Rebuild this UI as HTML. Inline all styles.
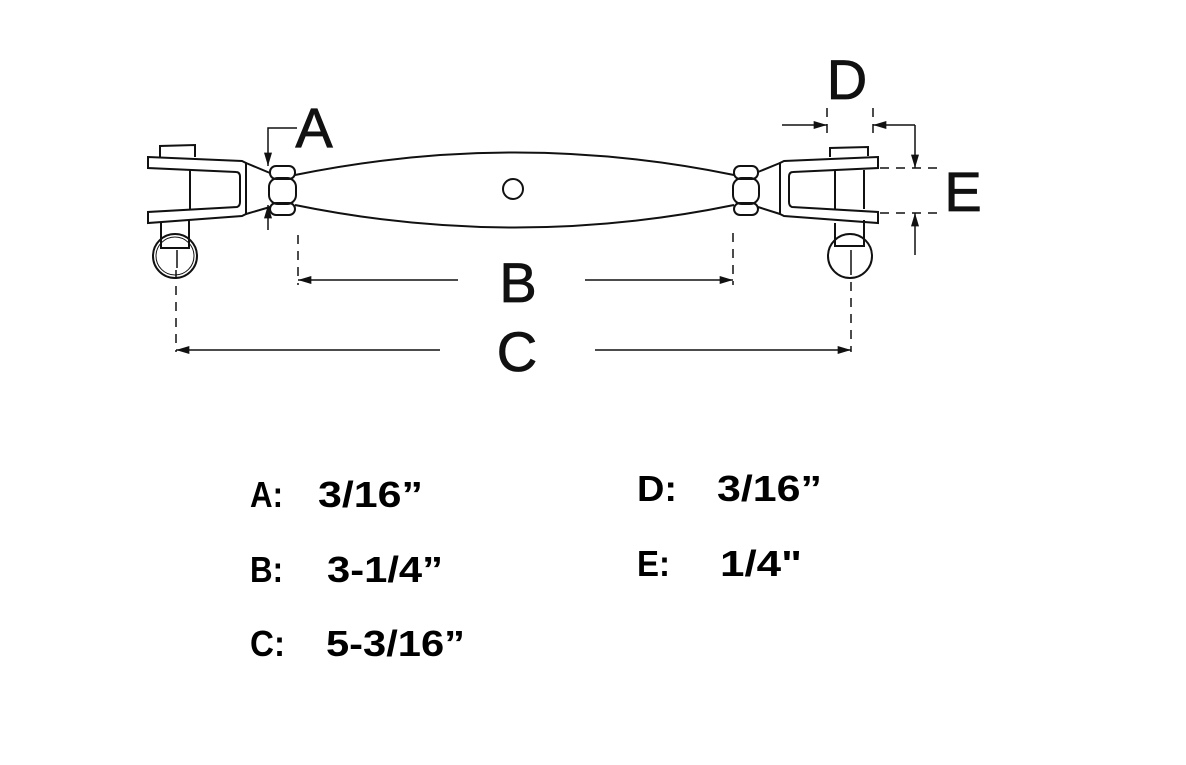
<!DOCTYPE html>
<html><head><meta charset="utf-8"><style>html,body{margin:0;padding:0;background:#fff}svg{display:block}</style></head>
<body>
<svg width="1186" height="765" viewBox="0 0 1186 765" xmlns="http://www.w3.org/2000/svg">
<defs>
<marker id="ar" viewBox="0 0 10 6" refX="10" refY="3" markerWidth="18" markerHeight="8" markerUnits="userSpaceOnUse" orient="auto"><path d="M0,0 L10,3 L0,6z" fill="#111"/></marker>
</defs>
<g fill="none" stroke="#111" stroke-width="2">
<path d="M160,157 L160,146 L195,145 L195,157"/>
<path d="M148,157 L242,161 L246,163 L246,214 L242,216 L148,223 L148,212 L237,207 Q240,206 240,202 L240,177 Q240,172 236,172 L148,168 Z"/>
<path d="M246,163 L270,173 M246,214 L270,207"/>
<line x1="190" y1="170" x2="190" y2="209"/>
<path d="M161,223 L161,248 L189,248 L189,220"/>
<circle cx="175" cy="256" r="22"/>
<circle cx="175" cy="256" r="19" stroke-width="1"/>
<rect x="270" y="166" width="25" height="13" rx="6"/>
<rect x="269" y="178" width="27" height="26" rx="9"/>
<rect x="270" y="203" width="25" height="12" rx="6"/>
<path d="M295,175 Q515,130 734,175"/>
<path d="M295,205 Q515,250 734,205"/>
<circle cx="513" cy="189" r="10"/>
<rect x="734" y="166" width="24" height="13" rx="6"/>
<rect x="733" y="178" width="26" height="26" rx="9"/>
<rect x="734" y="203" width="24" height="12" rx="6"/>
<path d="M830,157 L830,148 L868,147 L868,156"/>
<path d="M878,157 L784,161 L780,163 L780,214 L784,216 L878,223 L878,212 L792,207 Q789,206 789,202 L789,177 Q789,172 793,172 L878,168 Z"/>
<path d="M780,163 L758,172 M780,214 L758,207"/>
<line x1="835" y1="170" x2="835" y2="209"/>
<line x1="864" y1="170" x2="864" y2="209"/>
<path d="M835,223 L835,246 L864,246 L864,220"/>
<circle cx="850" cy="256" r="22"/>
</g>
<g fill="none" stroke="#111" stroke-width="1.5">
<path d="M297,128 L268,128 L268,166" marker-end="url(#ar)"/>
<path d="M268,230 L268,205" marker-end="url(#ar)"/>
<g stroke-dasharray="9,7">
<line x1="298" y1="235" x2="298" y2="285"/>
<line x1="733" y1="233" x2="733" y2="285"/>
<line x1="176" y1="270" x2="176" y2="352"/>
<line x1="851" y1="266" x2="851" y2="352"/>
<line x1="827" y1="108" x2="827" y2="140"/>
<line x1="873" y1="108" x2="873" y2="140"/>
<line x1="880" y1="168" x2="940" y2="168"/>
<line x1="880" y1="213" x2="940" y2="213"/>
</g>
<line x1="458" y1="280" x2="298" y2="280" marker-end="url(#ar)"/>
<line x1="585" y1="280" x2="733" y2="280" marker-end="url(#ar)"/>
<line x1="440" y1="350" x2="176" y2="350" marker-end="url(#ar)"/>
<line x1="595" y1="350" x2="851" y2="350" marker-end="url(#ar)"/>
<line x1="782" y1="125" x2="827" y2="125" marker-end="url(#ar)"/>
<path d="M915,125 L873,125" marker-end="url(#ar)"/>
<path d="M915,125 L915,168" marker-end="url(#ar)"/>
<path d="M915,255 L915,213" marker-end="url(#ar)"/>
<line x1="177" y1="268" x2="177" y2="250"/>
<line x1="851" y1="266" x2="851" y2="250"/>
</g>
<g font-family="Liberation Sans, sans-serif" font-size="56" fill="#111" text-anchor="middle" stroke="#111" stroke-width="0.8">
<text x="314" y="147">A</text>
<text x="518" y="302">B</text>
<text x="517" y="371">C</text>
<text x="847" y="99">D</text>
<text x="963" y="211">E</text>
</g>
<g font-family="Liberation Sans, sans-serif" font-size="36" font-weight="bold" fill="#000">
<text x="250" y="507" textLength="33" lengthAdjust="spacingAndGlyphs">A:</text>
<text x="318" y="507" textLength="105" lengthAdjust="spacingAndGlyphs">3/16”</text>
<text x="250" y="582" textLength="33" lengthAdjust="spacingAndGlyphs">B:</text>
<text x="327" y="582" textLength="116" lengthAdjust="spacingAndGlyphs">3-1/4”</text>
<text x="250" y="656" textLength="35" lengthAdjust="spacingAndGlyphs">C:</text>
<text x="326" y="656" textLength="139" lengthAdjust="spacingAndGlyphs">5-3/16”</text>
<text x="637" y="501" textLength="40" lengthAdjust="spacingAndGlyphs">D:</text>
<text x="717" y="501" textLength="105" lengthAdjust="spacingAndGlyphs">3/16”</text>
<text x="637" y="576" textLength="33" lengthAdjust="spacingAndGlyphs">E:</text>
<text x="720" y="576" textLength="82" lengthAdjust="spacingAndGlyphs">1/4"</text>
</g>
</svg>
</body></html>
